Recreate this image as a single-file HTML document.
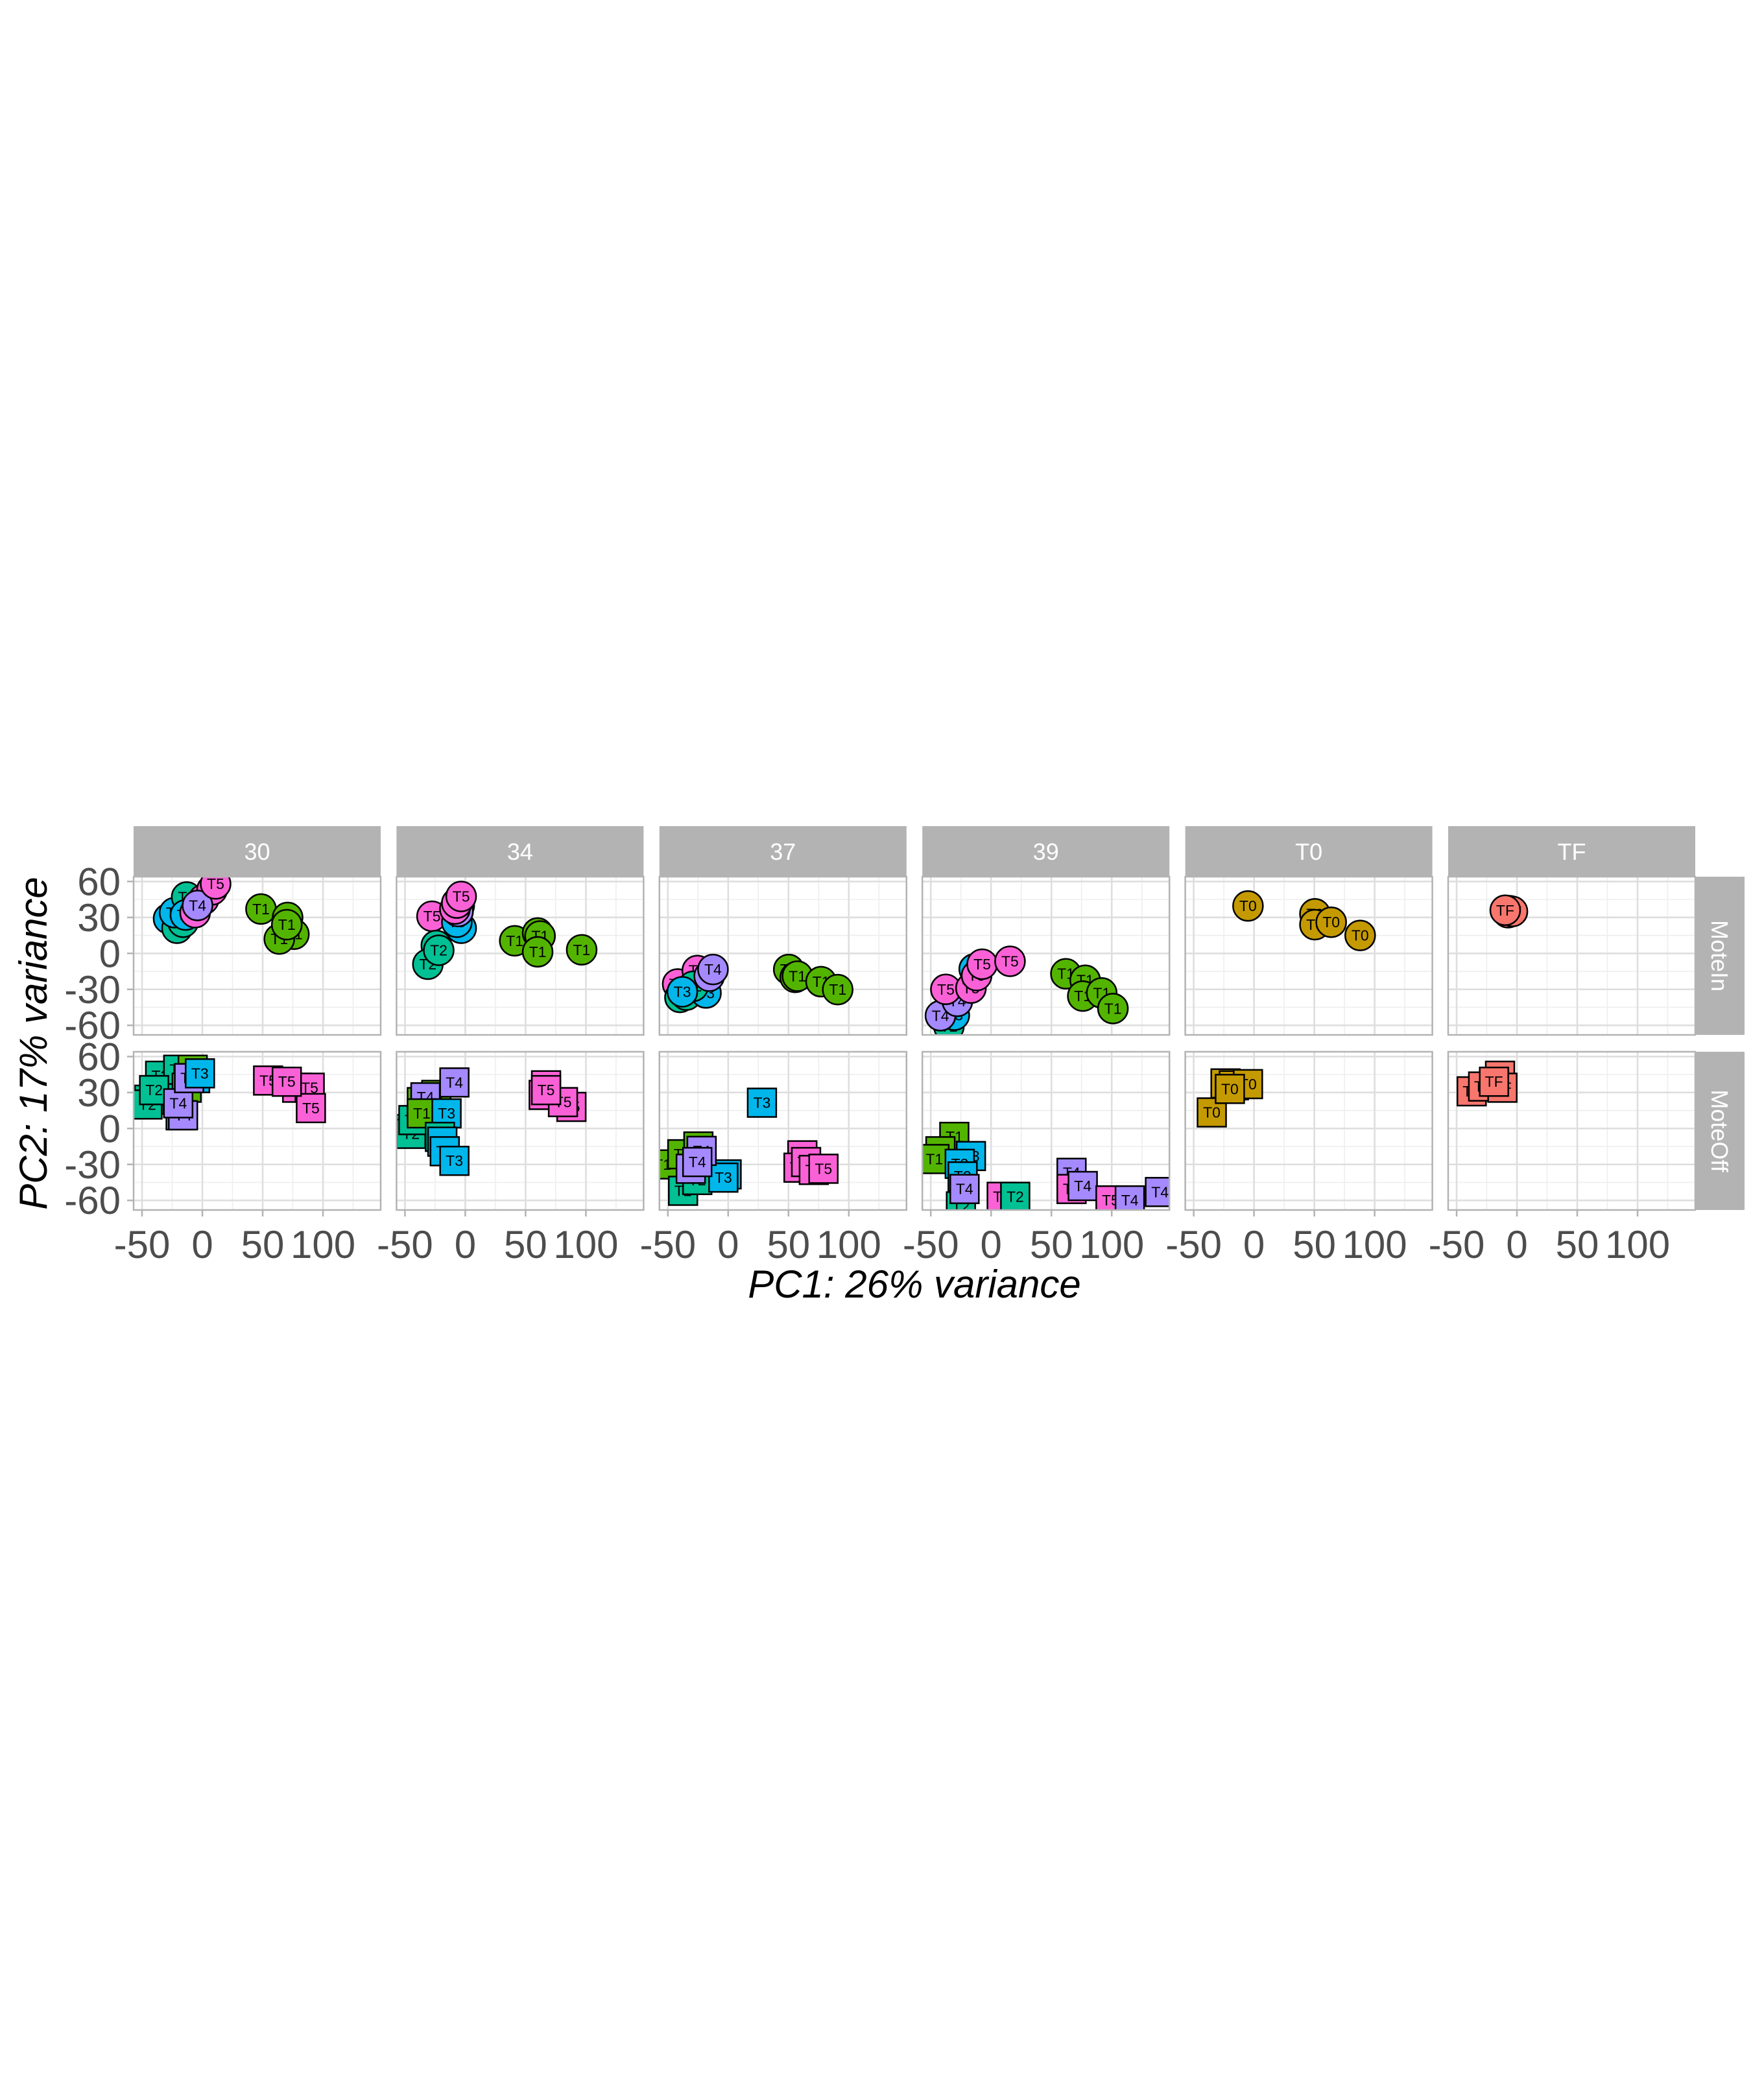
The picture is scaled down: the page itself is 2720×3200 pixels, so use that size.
<!DOCTYPE html>
<html><head><meta charset="utf-8"><style>
html,body{margin:0;padding:0;background:#fff;}
svg{display:block;font-family:"Liberation Sans",Arial,sans-serif;}
</style></head><body>
<svg id="chart" width="2720" height="3200" viewBox="0 0 2720 3200" xmlns="http://www.w3.org/2000/svg">
<rect width="2720" height="3200" fill="#fff"/>
<g id="layer"></g>
<text x="1410" y="2001" font-size="60" font-style="italic" text-anchor="middle" fill="#000">PC1: 26% variance</text>
<text transform="translate(72,1609) rotate(-90)" font-size="60" font-style="italic" text-anchor="middle" fill="#000">PC2: 17% variance</text>
</svg>
<script>
const panelNames = ["30","34","37","39","T0","TF"];
const rowNames = ["MoteIn","MoteOff"];
const groupNames = ["T0","T1","T2","T3","T4","T5","TF"];
const groupColors = ["#C49A00","#53B400","#00C094","#00B6EB","#A58AFF","#FB61D7","#F8766D"];
const xTicks = [-50,0,50,100];
const xTickLabels = ["-50","0","50","100"];
const xMinor = [-25,25,75,125];
const yTicks = [60,30,0,-30,-60];
const yTickLabels = ["60","30","0","-30","-60"];
const yMinor = [45,15,-15,-45];

const ptPanel = [
0,0,0,0,0, 0,0,0,0,0,0,0,0,0,0,0,0,0,
0,0,0,0,0,0,0,0,0,0,0,0,0,0,0,0,0,0,
1,1,1,1,1,1,1,1,1,1,1,1,1,1,1,1,
1,1,1,1,1,1,1,1,1,1,1,1,1,1,1,1,1,1,
2,2,2,2,2,2,2,2,2,2,2,2,2,2,
2,2,2,2,2,2,2,2,2,2,2,2,2,2,2,2,
3,3,3,3,3,3,3,3,3,3,3,3,3,3,3,
3,3,3,3,3,3,3,3,3,3,3,3,3,3,3,3,
4,4,4,4,4, 4,4,4,4,4,
5,5,5,5, 5,5,5,5,5];
const ptRow = [
0,0,0,0,0, 0,0,0,0,0,0,0,0,0,0,0,0,0,
1,1,1,1,1,1,1,1,1,1,1,1,1,1,1,1,1,1,
0,0,0,0,0,0,0,0,0,0,0,0,0,0,0,0,
1,1,1,1,1,1,1,1,1,1,1,1,1,1,1,1,1,1,
0,0,0,0,0,0,0,0,0,0,0,0,0,0,
1,1,1,1,1,1,1,1,1,1,1,1,1,1,1,1,
0,0,0,0,0,0,0,0,0,0,0,0,0,0,0,
1,1,1,1,1,1,1,1,1,1,1,1,1,1,1,1,
0,0,0,0,0, 1,1,1,1,1,
0,0,0,0, 1,1,1,1,1];
const ptLabel = [
"T1","T1","T1","T1","T1", "T3","T2","T2","T4","T3","T4","T2","T3","T5","T5","T5","T4","T5",
"T2","T2","T2","T2","T2","T1","T1","T3","T3","T4","T4","T4","T3","T5","T5","T5","T5","T5",
"T5","T3","T3","T2","T2","T2","T1","T1","T1","T1","T1","T4","T4","T5","T5","T5",
"T2","T2","T2","T1","T1","T4","T1","T3","T2","T3","T3","T3","T4","T5","T5","T5","T5","T5",
"T5","T2","T2","T5","T3","T2","T3","T4","T4","T1","T1","T1","T1","T1",
"T3","T1","T1","T1","T2","T2","T3","T3","T4","T4","T4","T5","T5","T5","T5","T5",
"T2","T3","T4","T4","T3","T5","T5","T5","T5","T5","T1","T1","T1","T1","T1",
"T1","T1","T1","T3","T3","T3","T2","T4","T5","T2","T4","T5","T4","T5","T4","T4",
"T0","T0","T0","T0","T0", "T0","T0","T0","T0","T0",
"TF","TF","TF","TF", "TF","TF","TF","TF","TF"];
const pc1 = [
48.6,70.7,75.9,63.8,70, -28,-21,-16,-11,-23,-8,-13,-14,-6,1,8,-4,11,
-44,-45.5,-35,-20,-40,-8,-13,-6,-18,-16,-20,-11,-2,54.5,78.6,89,90,70,
-27.6,-3.4,-7,-24,-31,-22,41,60,62,60,96.5,-5,-6,-8.6,-7,-3.4,
-45,-45,-43,-36,-24,-33,-36,-15.5,-21,-19,-17,-9,-9,67,65,88,81,67,
-41.9,-40,-34.7,-25.6,-18.4,-29,-38,-15.7,-12.6,50.2,55.6,57.4,77,90.8,
28,-54.5,-38,-24.7,-37.4,-25.6,-1.3,-4,-22,-31,-25.6,61.5,58.3,64.6,71,79,
-35,-30.5,-42,-28,-14,-37.5,-16.7,-12,-7.4,15.7,62,78,76,91.7,101,
-30.5,-42,-47,-16.7,-26,-23.6,-25,-22,8.8,20,66.7,66.7,76,99,115,140,
-5,50.5,50.5,64,88, -35,-23.6,-16.7,-5,-20,
-6,-7.4,-3.7,-9.7, -37.5,-28,-14,-12,-19];
const pc2 = [
37,30,16,12,24, 29,21,26,42,34,36,47,32,34,45,53,40,58,
24,20,44,49,32,49,34,42,11,11,21,42,46,40,34,34,17,39,
31,21,26,6.6,-9,2.6,10.5,17,14.5,1.3,3,40,35,37,42,47.5,
-0.5,-4.5,7,22,28,26,12.6,12.6,-7,-11,-19,-27,38.4,36,28,18,22,32,
-25.5,-36.7,-34.8,-14.3,-33,-27.4,-32,-19,-13.4,-13.4,-20,-19,-23.6,-30.2,
21.5,-30,-21.5,-15,-52,-43,-38.3,-41,-18.7,-33.6,-28,-22.4,-32.7,-28,-34.6,-33.6,
-61,-51.5,-52,-40,-13,-30,-29,-18.5,-9,-6.6,-17,-22.4,-35.6,-33,-46,
-7,-19,-25.5,-23,-29.5,-40,-65,-50.5,-57,-57,-37,-50.5,-48,-60,-60,-53,
39.6,33,24,26,15, 13.4,37.6,36,37,33,
35.6,34,35,36, 31,35,44,34,39];

const NS = "http://www.w3.org/2000/svg";
const layer = document.getElementById("layer");
const P0 = 206, PSTEP = 405.4, PW = 381, ROWTOP = [1352,1622], PH = 244;
const XMIN = -57, XPX = 1.86, YMAX = 64, YMIN = -68;
function xs(i, v){ return P0 + i*PSTEP + (v - XMIN) * XPX; }
function ys(r, v){ return ROWTOP[r] + (YMAX - v) * PH / (YMAX - YMIN); }
function mk(tag, attrs, parent){
  const e = document.createElementNS(NS, tag);
  for (const k in attrs) e.setAttribute(k, attrs[k]);
  (parent || layer).appendChild(e);
  return e;
}
const defs = mk("defs", {});
for (let i = 0; i < panelNames.length; i++) {
  const px = P0 + i*PSTEP;
  const st = mk("rect", {x:px, y:1274, width:PW, height:78, fill:"#B3B3B3"});
  
  
  const stt = mk("text", {x:px+PW/2, y:1326, "font-size":36, fill:"#fff", "text-anchor":"middle"});
  stt.textContent = panelNames[i];
  
  
  for (let r = 0; r < 2; r++) {
    const top = ROWTOP[r];
    const pg = mk("g", {});
    
    
    mk("rect", {x:px, y:top, width:PW, height:PH, fill:"#fff"}, pg);
    xMinor.forEach(v => mk("line", {x1:xs(i,v), x2:xs(i,v), y1:top, y2:top+PH, stroke:"#EEEEEE", "stroke-width":1.6}, pg));
    yMinor.forEach(v => mk("line", {x1:px, x2:px+PW, y1:ys(r,v), y2:ys(r,v), stroke:"#EEEEEE", "stroke-width":1.6}, pg));
    xTicks.forEach(v => mk("line", {x1:xs(i,v), x2:xs(i,v), y1:top, y2:top+PH, stroke:"#DEDEDE", "stroke-width":2.6}, pg));
    yTicks.forEach(v => mk("line", {x1:px, x2:px+PW, y1:ys(r,v), y2:ys(r,v), stroke:"#DEDEDE", "stroke-width":2.6}, pg));
    const cp = mk("clipPath", {id:"cp"+i+"_"+r}, defs);
    mk("rect", {x:px, y:top, width:PW, height:PH}, cp);
    const marks = mk("g", {"clip-path":"url(#cp"+i+"_"+r+")"}, pg);
    for (let k = 0; k < pc1.length; k++) {
      if (ptPanel[k] !== i || ptRow[k] !== r) continue;
      const cx = xs(i, pc1[k]), cy = ys(r, pc2[k]);
      const col = groupColors[groupNames.indexOf(ptLabel[k])];
      const g = mk("g", {}, marks);
      
      
      if (r === 0) mk("ellipse", {cx:cx, cy:cy, rx:23, ry:23, fill:col, stroke:"#000", "stroke-width":2.5}, g);
      else mk("rect", {x:cx-22, y:cy-22, width:44, height:44, fill:col, stroke:"#000", "stroke-width":2.5}, g);
      const t = mk("text", {x:cx, y:cy+8, "font-size":23, "text-anchor":"middle", fill:"#000"}, g);
      t.textContent = ptLabel[k];
    }
    mk("rect", {x:px, y:top, width:PW, height:PH, fill:"none", stroke:"#B3B3B3", "stroke-width":2.5}, pg);
    if (i === 0) {
      yTicks.forEach((v, j) => {
        mk("line", {x1:196, x2:206, y1:ys(r,v), y2:ys(r,v), stroke:"#B3B3B3", "stroke-width":2.5});
        const yl = mk("text", {x:186, y:ys(r,v)+21, "font-size":60, fill:"#4D4D4D", "text-anchor":"end"});
        yl.textContent = yTickLabels[j];
        
        
      });
    }
    if (i === panelNames.length - 1) {
      const rs = mk("rect", {x:px+PW, y:top, width:76, height:PH, fill:"#B3B3B3"});
      
      
      const rt = mk("text", {transform:"translate("+(px+PW+25)+","+(top+PH/2)+") rotate(90)", "font-size":36, fill:"#fff", "text-anchor":"middle"});
      rt.textContent = rowNames[r];
      
      
    }
  }
  xTicks.forEach((v, j) => {
    mk("line", {x1:xs(i,v), x2:xs(i,v), y1:1866, y2:1876, stroke:"#B3B3B3", "stroke-width":2.5});
    const xl = mk("text", {x:xs(i,v), y:1940, "font-size":60, fill:"#4D4D4D", "text-anchor":"middle"});
    xl.textContent = xTickLabels[j];
    
    
  });
}
</script>
</body></html>
